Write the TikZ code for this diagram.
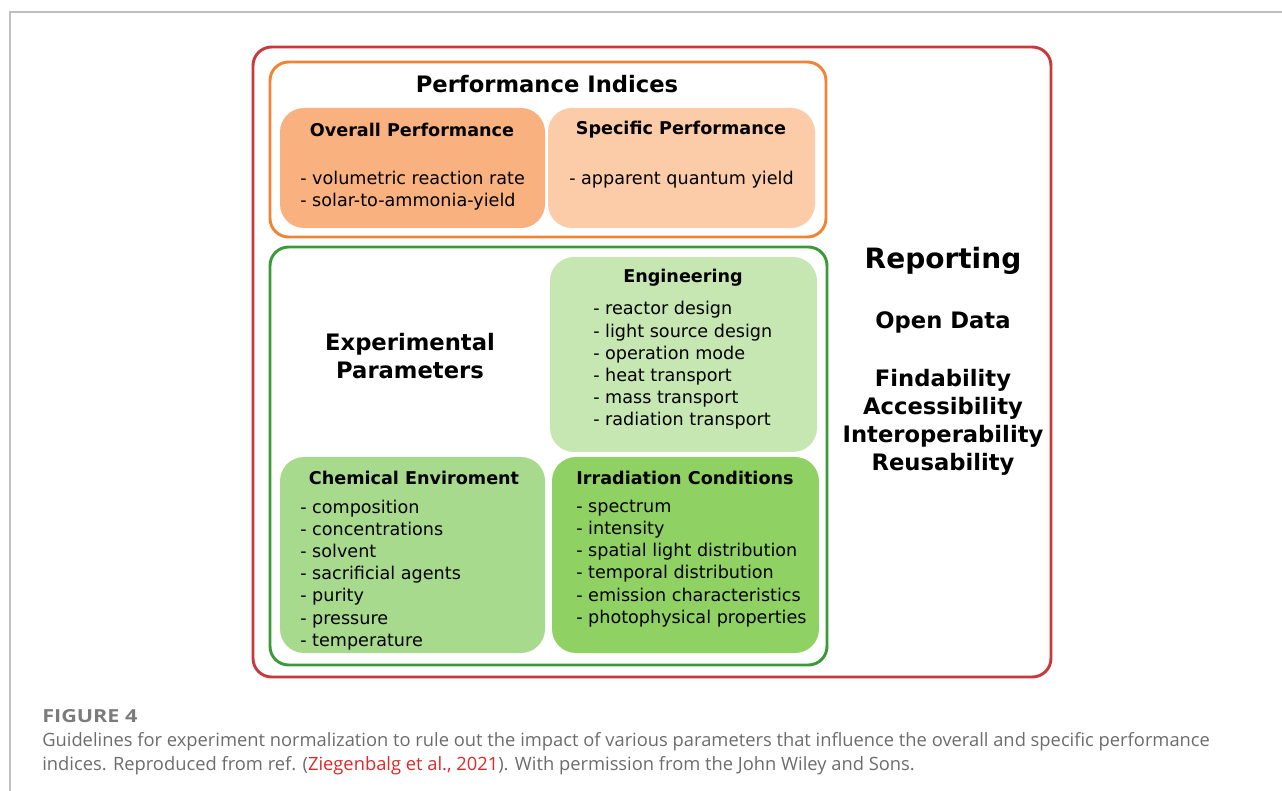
\documentclass[tikz,border=0pt]{standalone}
\usepackage{fontspec}
\setmainfont{DejaVu Sans}
\newfontfamily\capfont{Open Sans}
\newfontfamily\capheadfont[FakeStretch=1.2]{Open Sans}

\definecolor{pagegray}{RGB}{192,192,192}
\definecolor{reportred}{RGB}{200,56,62}
\definecolor{indexorange}{RGB}{240,132,52}
\definecolor{paramgreen}{RGB}{58,154,54}
\definecolor{overallfill}{RGB}{249,177,128}
\definecolor{specificfill}{RGB}{251,204,167}
\definecolor{engfill}{RGB}{198,231,178}
\definecolor{chemfill}{RGB}{168,218,142}
\definecolor{irrfill}{RGB}{143,209,99}
\definecolor{capgray}{RGB}{108,108,108}
\definecolor{citered}{RGB}{222,40,40}

\begin{document}
\begin{tikzpicture}[x=0.75pt, y=-0.75pt]
  \tikzstyle{frame}=[draw, rounded corners=14pt, line width=2.2pt, inner sep=0pt]
  \tikzstyle{panel}=[rounded corners=18pt, inner sep=0pt]
  \tikzstyle{title}=[anchor=base, font=\bfseries\fontsize{17}{20}\selectfont]
  \tikzstyle{heading}=[anchor=base, inner sep=0pt, font=\bfseries\fontsize{13.2}{15}\selectfont]
  \tikzstyle{item}=[anchor=base west, inner sep=0pt, font=\fontsize{13.2}{15}\selectfont]
  \tikzstyle{captext}=[anchor=base west, inner sep=0pt, text=capgray, font=\capfont\fontsize{13.75}{16}\selectfont]

  \useasboundingbox (0,0) rectangle (1282,791);
  \draw[pagegray, line width=0.9pt] (10,791) -- (10,12) -- (1282,12);

  % outer frames
  \node (reporting) at (652,362) [frame, draw=reportred, minimum width=598.5pt, minimum height=472.5pt] {};
  \node (indices) at (548,149.5) [frame, draw=indexorange, minimum width=417pt, minimum height=131.25pt] {};
  \node (params) at (548.5,456) [frame, draw=paramgreen, minimum width=417.75pt, minimum height=313.5pt] {};

  % coloured panels
  \node (overall) at (412.5,168) [panel, fill=overallfill, minimum width=198.75pt, minimum height=90pt] {};
  \node (specific) at (681.5,168) [panel, fill=specificfill, minimum width=200.25pt, minimum height=90pt] {};
  \node (eng) at (683.5,354.5) [panel, fill=engfill, minimum width=200.25pt, minimum height=146.25pt] {};
  \node (chem) at (412.5,555) [panel, fill=chemfill, minimum width=198.75pt, minimum height=147pt] {};
  \node (irr) at (685.5,555) [panel, fill=irrfill, minimum width=200.25pt, minimum height=147pt] {};

  % performance indices
  \node (indicestitle) at (547,93) [title] {Performance Indices};
  \node (overallhead) at (412,137) [heading] {Overall Performance};
  \node (specifichead) at (681,135) [heading] {Specific Performance};
  \foreach \t [count=\i] in {volumetric reaction rate, solar-to-ammonia-yield}
    \node (overall\i) at (300,163+22*\i) [item] {- \t};
  \node (specific1) at (569,185) [item] {- apparent quantum yield};

  % experimental parameters
  \node (paramstitle) at (410,356) [align=center, font=\bfseries\fontsize{17}{21}\selectfont] {Experimental\\Parameters};
  \node (enghead) at (683,283) [heading] {Engineering};
  \foreach \t [count=\i] in {reactor design, light source design, operation mode, heat transport, mass transport, radiation transport}
    \node (eng\i) at (593,292.8+22.2*\i) [item] {- \t};
  \node (chemhead) at (414,484) [heading] {Chemical Enviroment};
  \foreach \t [count=\i] in {composition, concentrations, solvent, sacrificial agents, purity, pressure, temperature}
    \node (chem\i) at (300,490.8+22.2*\i) [item] {- \t};
  \node (irrhead) at (685,484) [heading] {Irradiation Conditions};
  \foreach \t [count=\i] in {spectrum, intensity, spatial light distribution, temporal distribution, emission characteristics, photophysical properties}
    \node (irr\i) at (576,490+22.2*\i) [item] {- \t};

  % reporting column
  \node (reportingtitle) at (943,269) [title, font=\bfseries\fontsize{21}{24}\selectfont] {Reporting};
  \node (opendata) at (943,329) [title] {Open Data};
  \foreach \t [count=\i] in {Findability, Accessibility, Interoperability, Reusability}
    \node (fair\i) at (943,358+28.2*\i) [title] {\t};

  % caption
  \node (fignum) at (42,722) [captext, font=\capheadfont\bfseries\fontsize{13.5}{16}\selectfont, text=capgray!90!white] {FIGURE 4};
  \node (cap1) at (42,746) [captext] {Guidelines for experiment normalization to rule out the impact of various parameters that influence the overall and specific performance};
  \node (cap2) at (42,770) [captext] {indices. Reproduced from ref. (\textcolor{citered}{Ziegenbalg et al., 2021}). With permission from the John Wiley and Sons.};
\end{tikzpicture}
\end{document}
